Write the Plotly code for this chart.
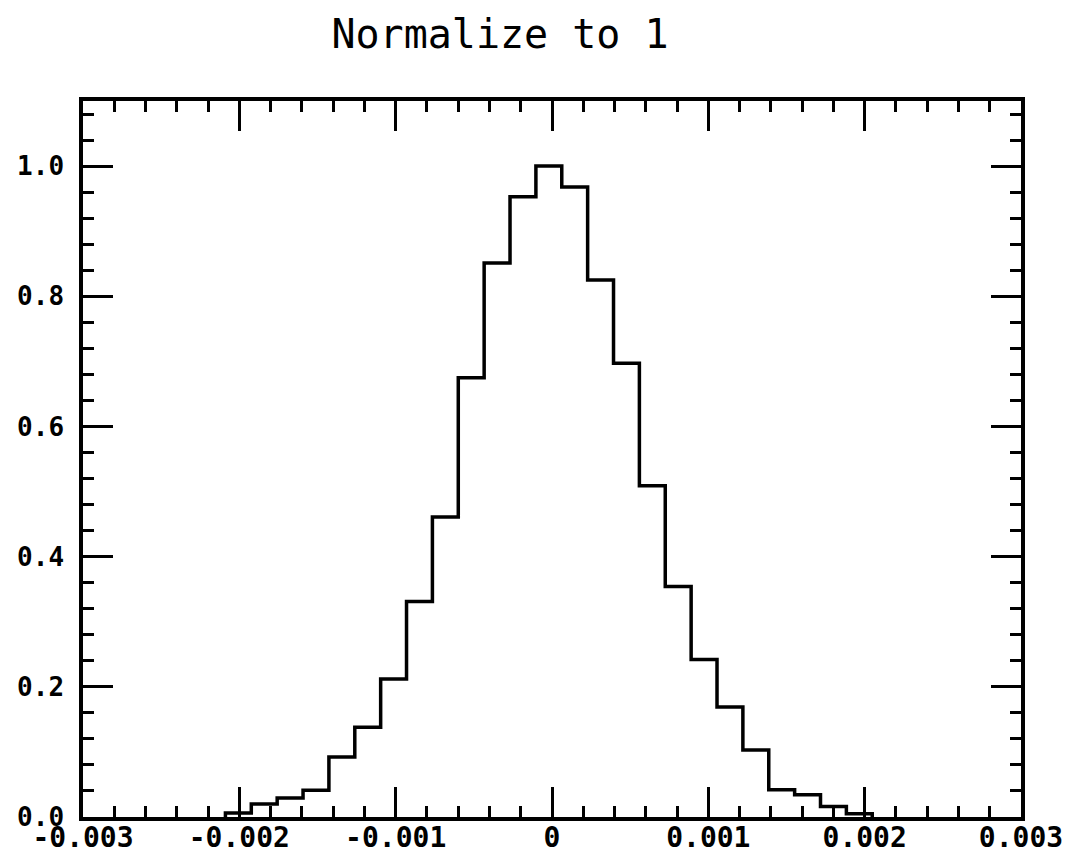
import plotly.graph_objects as go

# Histogram data
bin_start = -0.002089          # left edge of first non-empty bin
bin_width = 0.0001655
bin_values = [0.006, 0.020, 0.029, 0.041, 0.092, 0.138, 0.212, 0.331, 0.461,
              0.675, 0.851, 0.953, 1.000, 0.968, 0.825, 0.697, 0.509, 0.354,
              0.242, 0.169, 0.103, 0.042, 0.034, 0.016, 0.005]

x_tick_vals = [-0.003, -0.002, -0.001, 0, 0.001, 0.002, 0.003]
x_tick_text = ["-0.003", "-0.002", "-0.001", "0", "0.001", "0.002", "0.003"]
y_tick_vals = [0.0, 0.2, 0.4, 0.6, 0.8, 1.0]
y_tick_text = ["0.0", "0.2", "0.4", "0.6", "0.8", "1.0"]
title_text = "Normalize to 1"

edges = [bin_start + i * bin_width for i in range(len(bin_values) + 1)]
xs = [edges[0]] + edges
ys = [0] + bin_values + [0]

fig = go.Figure()
fig.add_trace(go.Scatter(x=xs, y=ys, mode="lines", line_shape="hv",
                         line=dict(color="black", width=3.5),
                         hoverinfo="skip", showlegend=False))

x_font = dict(family="DejaVu Sans Mono", size=28, color="black", weight="bold")
y_font = dict(family="DejaVu Sans Mono", size=26, color="black", weight="bold")

# the page body adds an 8px margin, so the figure is sized/offset to compensate
fig.update_layout(
    width=1065, height=852,
    margin=dict(l=75, r=52, t=93, b=43, autoexpand=False),
    paper_bgcolor="white", plot_bgcolor="white",
    title=dict(text=title_text, x=0.462, xref="container", xanchor="center",
               y=0.970, yref="container", yanchor="middle",
               font=dict(family="DejaVu Sans Mono", size=40, color="black")),
    xaxis=dict(range=[-0.003, 0.003], showgrid=False, zeroline=False,
               automargin=False,
               showline=True, linewidth=3.5, linecolor="black", mirror="allticks",
               ticks="inside", ticklen=30, tickwidth=3, tickcolor="black",
               tickvals=x_tick_vals, ticktext=x_tick_text, tickfont=x_font,
               ticklabelstandoff=-7,
               minor=dict(ticks="inside", ticklen=11, tickwidth=3,
                          tickcolor="black", dtick=0.0002, tick0=0, showgrid=False)),
    yaxis=dict(range=[0, 1.1], showgrid=False, zeroline=False,
               automargin=False,
               showline=True, linewidth=3.5, linecolor="black", mirror="allticks",
               ticks="inside", ticklen=30, tickwidth=3, tickcolor="black",
               tickvals=y_tick_vals, ticktext=y_tick_text, tickfont=y_font,
               ticklabelstandoff=10,
               minor=dict(ticks="inside", ticklen=11, tickwidth=3,
                          tickcolor="black", dtick=0.04, tick0=0, showgrid=False)),
)

fig.write_html("out.html")
